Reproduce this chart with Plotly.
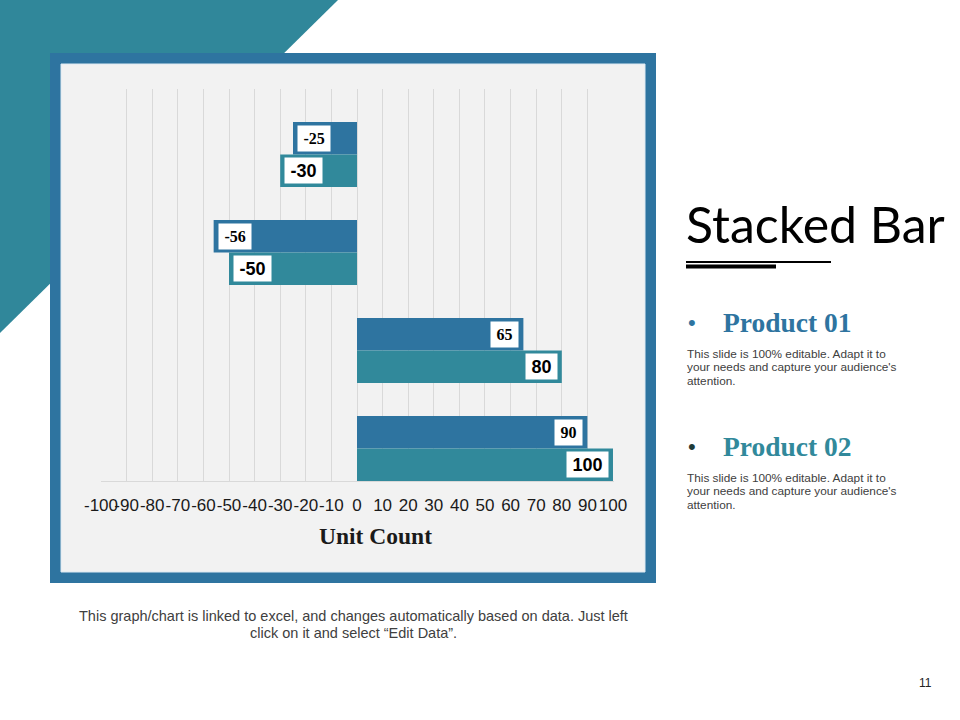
import plotly.graph_objects as go

# ---------------- data ----------------
CATEGORIES = ["Category 4", "Category 3", "Category 2", "Category 1"]  # top to bottom
PRODUCT_01 = [-25, -56, 65, 90]
PRODUCT_02 = [-30, -50, 80, 100]
SERIES_NAMES = ["Product 01", "Product 02"]
TICK_VALUES = list(range(-100, 101, 10))
TICK_LABELS = [str(v) for v in TICK_VALUES]
AXIS_TITLE = "Unit Count"
TITLE = "Stacked Bar"
BODY_LINES = ["This slide is 100% editable. Adapt it to",
              "your needs and capture your audience's",
              "attention."]
FOOTNOTE_LINES = ["This graph/chart is linked to excel, and changes automatically based on data. Just left",
                  "click on it and select \u201cEdit Data\u201d."]
PAGE_NUMBER = "11"

# ---------------- style ----------------
W, H = 960, 720
BLUE = "#2E74A0"
TEAL = "#31899B"
TRI = "#30879A"
PANEL = "#F2F2F2"
GRID = "#D9D9D9"
TXT = "#404040"
SANS = "Liberation Sans, Arial, sans-serif"
SERIF = "Liberation Serif, Times New Roman, serif"


def px(x):
    return x / W


def py(y):
    return 1 - y / H


def text_width(s, size, digit_w):
    return size * sum(0.333 if ch == "-" else digit_w for ch in s)


fig = go.Figure()
series = [PRODUCT_01, PRODUCT_02]
colors = [BLUE, TEAL]
for name, vals, col in zip(SERIES_NAMES, series, colors):
    fig.add_trace(go.Bar(
        y=CATEGORIES, x=vals, name=name, orientation="h",
        marker=dict(color=col, line=dict(width=0)),
        hoverinfo="x+name",
    ))

# bar value labels (white boxes)
label_fonts = [dict(family=SERIF, size=16, color="#000000"),
               dict(family=SANS, size=18, color="#000000")]
digit_widths = [0.5, 0.556]
label_shift = [16, -16]
annotations = []
for si, vals in enumerate(series):
    for cat, v in zip(CATEGORIES, vals):
        neg = v < 0
        s = str(v)
        annotations.append(dict(
            x=v, y=cat, xref="x", yref="y", text=f"<b>{s}</b>", showarrow=False,
            xanchor="left" if neg else "right", yanchor="middle",
            xshift=4 if neg else -4, yshift=label_shift[si],
            bgcolor="#FFFFFF", borderpad=3, height=19,
            width=text_width(s, label_fonts[si]["size"], digit_widths[si]) + 5,
            font=label_fonts[si],
        ))

# axis title
annotations.append(dict(x=px(375), y=py(536), xref="paper", yref="paper",
                        text=f"<b>{AXIS_TITLE}</b>", showarrow=False,
                        xanchor="center", yanchor="middle",
                        font=dict(family=SERIF, size=23.5, color="#1a1a1a")))

# right-side text
annotations.append(dict(x=px(684), y=py(224), xref="paper", yref="paper",
                        text=TITLE, showarrow=False, xanchor="left", yanchor="middle",
                        font=dict(family="Lato, Carlito, sans-serif", size=50, color="#000000")))
for i, (name, col, bcol) in enumerate(zip(SERIES_NAMES, [BLUE, TEAL], [BLUE, "#1F3B38"])):
    yy = 322 + i * 124
    annotations.append(dict(x=px(686), y=py(yy), xref="paper", yref="paper",
                            text="•", showarrow=False, xanchor="left", yanchor="middle",
                            font=dict(family=SANS, size=22, color=bcol)))
    annotations.append(dict(x=px(721), y=py(yy), xref="paper", yref="paper",
                            text=f"<b>{name}</b>", showarrow=False, xanchor="left", yanchor="middle",
                            font=dict(family=SERIF, size=27.5, color=col)))
    for li, line in enumerate(BODY_LINES):
        annotations.append(dict(x=px(685), y=py(yy + 32 + li * 13.3), xref="paper", yref="paper",
                                text=line, showarrow=False, xanchor="left", yanchor="middle",
                                align="left", font=dict(family=SANS, size=11.8, color=TXT)))

for li, line in enumerate(FOOTNOTE_LINES):
    annotations.append(dict(x=px(353), y=py(616 + li * 17), xref="paper", yref="paper",
                            text=line, showarrow=False, xanchor="center", yanchor="middle",
                            font=dict(family=SANS, size=14.5, color=TXT)))
annotations.append(dict(x=px(925), y=py(683), xref="paper", yref="paper",
                        text=PAGE_NUMBER, showarrow=False, xanchor="center", yanchor="middle",
                        font=dict(family=SANS, size=12, color="#222222")))

shapes = [
    # decorative triangle
    dict(type="path", xref="paper", yref="paper", layer="below",
         path=f"M 0 1 L {px(338)} 1 L 0 {py(333)} Z", fillcolor=TRI, line=dict(width=0)),
    # frame
    dict(type="rect", xref="paper", yref="paper", layer="below",
         x0=px(50), x1=px(656), y0=py(583), y1=py(53), fillcolor=BLUE, line=dict(width=0)),
    # inner panel
    dict(type="rect", xref="paper", yref="paper", layer="below",
         x0=px(61), x1=px(645), y0=py(572), y1=py(64), fillcolor=PANEL,
         line=dict(width=1, color="#DDEAF3")),
    # title underlines
    dict(type="line", xref="paper", yref="paper", x0=px(686), x1=px(831), y0=py(262), y1=py(262),
         line=dict(color="#000000", width=2)),
    dict(type="line", xref="paper", yref="paper", x0=px(686), x1=px(776), y0=py(266.5), y1=py(266.5),
         line=dict(color="#000000", width=4)),
]

fig.update_layout(
    width=W, height=H, autosize=False, margin=dict(l=0, r=0, t=0, b=0, pad=0),
    paper_bgcolor="#FFFFFF", plot_bgcolor="rgba(0,0,0,0)",
    barmode="group", bargap=0.337, bargroupgap=0,
    showlegend=False,
    shapes=shapes, annotations=annotations,
    xaxis=dict(domain=[px(100.5), px(613.5)], range=[-100.2, 100.2], automargin=False,
               tickvals=TICK_VALUES, ticktext=TICK_LABELS, tickangle=0,
               showgrid=True, gridcolor=GRID, gridwidth=1, zeroline=False,
               showline=True, linecolor=GRID, linewidth=1, ticks="", ticklabelstandoff=9,
               tickfont=dict(family=SANS, size=17, color="#1a1a1a")),
    yaxis=dict(domain=[py(481), py(89)], range=[3.5 - 0.168, -0.5 - 0.168], automargin=False,
               type="category", showticklabels=False, showgrid=False,
               zeroline=False, showline=False, ticks=""),
)

fig.write_html(
    "out.html",
    config={"responsive": False, "displayModeBar": False},
    post_script="document.body.style.margin='0';document.body.style.padding='0';"
                "document.body.style.overflow='hidden';"
                "document.documentElement.style.overflow='hidden';",
)
